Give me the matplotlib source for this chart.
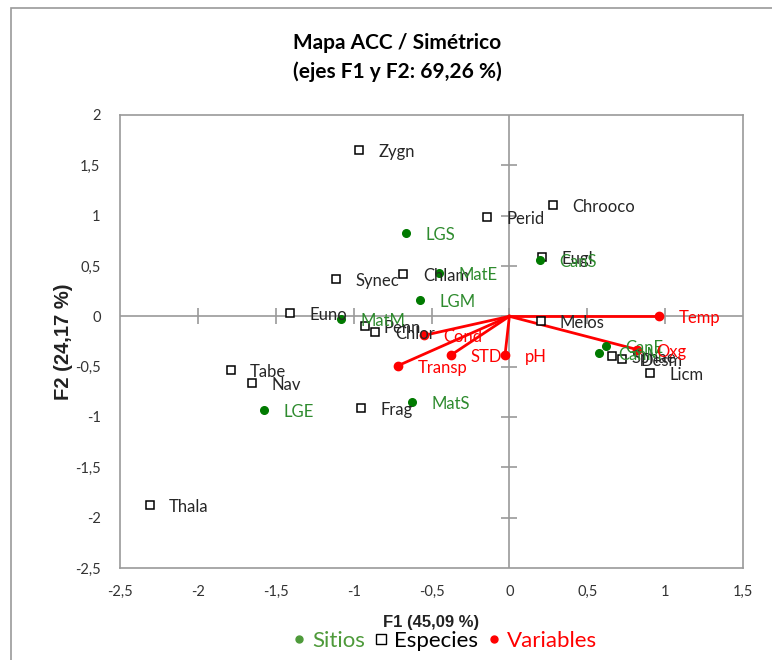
import matplotlib
matplotlib.use("Agg")
import matplotlib.pyplot as plt
from matplotlib.patches import Rectangle
from matplotlib.lines import Line2D
import numpy as np

plt.rcParams['font.family'] = ['Lato', 'DejaVu Sans']

# Species (open squares)
sp_names = ["Zygn", "Chrooco", "Perid", "Eugl", "Synec", "Chlam", "Euno", "Penn", "Chlor",
            "Melos", "Sphae", "Desm", "Licm", "Tabe", "Nav", "Frag", "Thala"]
sp_x = [-0.966, 0.28, -0.144, 0.21, -1.11, -0.68, -1.41, -0.93, -0.86,
        0.20, 0.66, 0.72, 0.90, -1.79, -1.65, -0.95, -2.31]
sp_y = [1.65, 1.11, 0.99, 0.59, 0.37, 0.42, 0.035, -0.10, -0.16,
        -0.05, -0.39, -0.42, -0.56, -0.53, -0.66, -0.91, -1.87]

# Sites (green dots)
site_names = ["LGS", "MatE", "LGM", "MatM", "CanS", "CanE", "CanM", "LGE", "MatS"]
site_x = [-0.665, -0.45, -0.575, -1.08, 0.196, 0.62, 0.575, -1.575, -0.625]
site_y = [0.83, 0.43, 0.16, -0.03, 0.56, -0.29, -0.36, -0.93, -0.85]

# Variables (red vectors)
var_names = ["Temp", "Oxg", "pH", "STD", "Transp", "Cond"]
var_x = [0.96, 0.82, -0.028, -0.375, -0.715, -0.55]
var_y = [0.0, -0.33, -0.385, -0.385, -0.49, -0.19]

xticks = [-2.5, -2, -1.5, -1, -0.5, 0, 0.5, 1, 1.5]
yticks = [-2.5, -2, -1.5, -1, -0.5, 0, 0.5, 1, 1.5, 2]

GREEN = "#007A00"
GREEN_T = "#2E8B2E"
RED = "#FF0000"
GRAY = "#9A9A9A"

fig = plt.figure(figsize=(7.72, 6.60), dpi=100)
ax = fig.add_axes([120/772, 1-568/660, (743-120)/772, (568-115)/660])
ax.set_xlim(-2.5, 1.5)
ax.set_ylim(-2.5, 2)

for s in ax.spines.values():
    s.set_color(GRAY)
    s.set_linewidth(1.2)

ax.set_xticks(xticks)
ax.set_yticks(yticks)
fmt = lambda v: ("%g" % v).replace(".", ",")
ax.set_xticklabels([fmt(v) for v in xticks], fontsize=10.5, color="#333333")
ax.set_yticklabels([fmt(v) for v in yticks], fontsize=10.5, color="#333333")
ax.tick_params(length=0, pad=12)
ax.tick_params(axis='y', pad=14)

# zero axes with crossing ticks
ax.axhline(0, color=GRAY, lw=1.2, zorder=1)
ax.axvline(0, color=GRAY, lw=1.2, zorder=1)
ax.plot(xticks[1:-1], [0]*len(xticks[1:-1]), ls='none', marker='|', ms=11, mew=1.2, color=GRAY, zorder=1)
ax.plot([0]*len(yticks[1:-1]), yticks[1:-1], ls='none', marker='_', ms=11, mew=1.2, color=GRAY, zorder=1)

# variables
for n, x, y in zip(var_names, var_x, var_y):
    ax.plot([0, x], [0, y], color=RED, lw=2, zorder=3)
ax.plot(var_x, var_y, ls='none', marker='o', ms=6, color=RED, zorder=4)

# species
ax.plot(sp_x, sp_y, ls='none', marker='s', ms=5.5, mfc='white', mec='black', mew=1.1, zorder=5)
# sites
ax.plot(site_x, site_y, ls='none', marker='o', ms=5.5, color=GREEN, zorder=5)

dx = 0.125
for n, x, y in zip(sp_names, sp_x, sp_y):
    ax.text(x + dx, y - 0.02, n, fontsize=12, color="#262626", va='center', ha='left', zorder=6)
for n, x, y in zip(site_names, site_x, site_y):
    ax.text(x + dx, y - 0.02, n, fontsize=12, color=GREEN_T, va='center', ha='left', zorder=6)
for n, x, y in zip(var_names, var_x, var_y):
    ax.text(x + dx, y - 0.02, n, fontsize=12, color=RED, va='center', ha='left', zorder=6)

ax.set_xlabel("F1 (45,09 %)", fontsize=12, fontweight='bold', color="#222222", labelpad=12, family='Liberation Sans')
ax.set_ylabel("F2 (24,17 %)", fontsize=14.5, fontweight='bold', color="#222222", labelpad=1, family='Liberation Sans')

fig.text(397/772, 1-43/660, "Mapa ACC / Simétrico", ha='center', va='center', fontsize=15, fontweight='bold')
fig.text(397/772, 1-72/660, "(ejes F1 y F2: 69,26 %)", ha='center', va='center', fontsize=15, fontweight='bold')

# legend
handles = [Line2D([], [], ls='none', marker='o', ms=5, color="#4E9A3A"),
           Line2D([], [], ls='none', marker='s', ms=7, mfc='white', mec='black', mew=1),
           Line2D([], [], ls='none', marker='o', ms=5, color=RED)]
leg = fig.legend(handles, ["Sitios", "Especies", "Variables"], loc='center', bbox_to_anchor=(445/772, 1-641/660),
                 ncol=3, frameon=False, fontsize=16, handlelength=0.6, handletextpad=0.3, columnspacing=0.4)
for t, c in zip(leg.get_texts(), ["#4E9A3A", "black", RED]):
    t.set_color(c)

# outer frame
fig.patches.append(Rectangle((11/772, -0.05), 1.2, 1.05 - 8/660, transform=fig.transFigure,
                             fill=False, ec=GRAY, lw=1.2, figure=fig))

fig.savefig("out.png", dpi=100)
